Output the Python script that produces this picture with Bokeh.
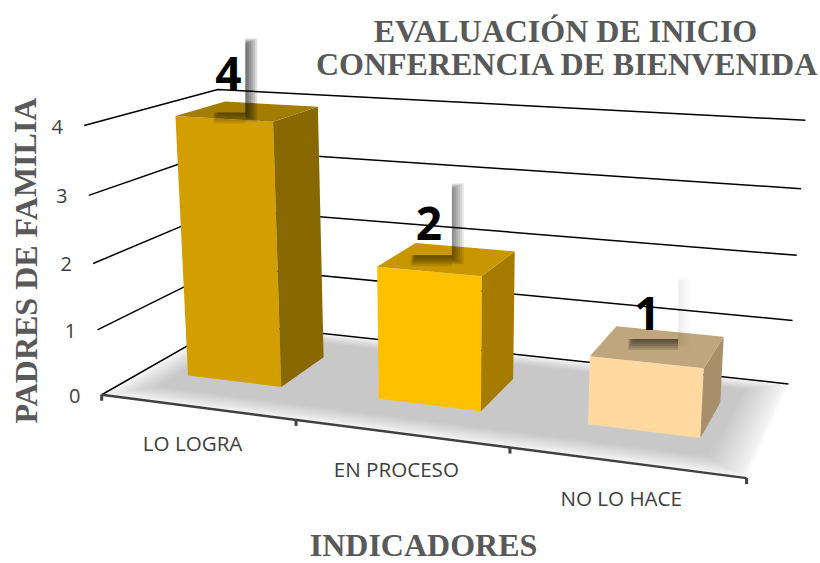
from bokeh.plotting import figure
from bokeh.models import Range1d
from bokeh.core.properties import value
from bokeh.embed import file_html
from bokeh.resources import INLINE
import numpy as np

categories = ["LO LOGRA", "EN PROCESO", "NO LO HACE"]
values = [4, 2, 1]
y_ticks = [0, 1, 2, 3, 4]
front_colors = ["#D29E00", "#FFC000", "#FFD9A0"]
side_colors = ["#886800", "#A67C00", "#A68F6A"]
top_colors = ["#A37D00", "#C89700", "#BFA67D"]
title_lines = ["EVALUACIÓN DE INICIO", "CONFERENCIA DE BIENVENIDA"]
y_title = "PADRES DE FAMILIA"
x_title = "INDICADORES"

# camera: fitted to where the box corners sit on the page (cat, depth, value) -> (px, py)
n_cat, y_max = len(categories), max(y_ticks)
box_world = [(0,0,0),(n_cat,0,0),(0,1,0),(n_cat,1,0),(0,0,y_max),(0,1,y_max),(n_cat,1,y_max)]
box_page = [(101,394),(746,478),(227,323),(788,383),(84,125),(217,89),(805,120)]
A, b = [], []
for (X,Y,Z),(u,v) in zip(box_world, box_page):
    A.append([X,Y,Z,1,0,0,0,0,-u*X,-u*Y,-u*Z]); b.append(u)
    A.append([0,0,0,0,X,Y,Z,1,-v*X,-v*Y,-v*Z]); b.append(v)
h = np.linalg.lstsq(np.array(A,float), np.array(b,float), rcond=None)[0]
M = np.append(h,1.0).reshape(3,4)
def proj(X,Y,Z):
    r = M @ np.array([X,Y,Z,1.0])
    return r[0]/r[2], r[1]/r[2]
def poly(pts):
    q = [proj(*t) for t in pts]
    return [a for a,_ in q],[c for _,c in q]

p = figure(width=820, height=563, output_backend="svg", toolbar_location=None,
           x_range=Range1d(0,820), y_range=Range1d(563,0), min_border=0,
           outline_line_color=None)
p.axis.visible = False
p.grid.visible = False
p.background_fill_color = "white"

# floor with soft fading border
layers = 18
for i in range(layers):
    t = i/(layers-1)
    inset = 0.14*t
    g = int(250 - (250-200)*t**0.8)
    x0, x1 = n_cat*inset*0.45, n_cat*(1-inset*0.45)
    y0, y1 = inset*1.1, 1-inset*0.9
    xs, ys = poly([(x0,y0,0),(x1,y0,0),(x1,y1,0),(x0,y1,0)])
    p.patch(xs, ys, fill_color=f"#{g:02x}{g:02x}{g:02x}", line_color=None)

# gridlines
for t in y_ticks:
    xs, ys = poly([(0,0,t),(0,1,t),(n_cat,1,t)])
    p.line(xs, ys, line_color="#000000", line_width=1.5)

# category axis
xs, ys = poly([(0,0,0),(n_cat,0,0)])
p.line(xs, ys, line_color="#404040", line_width=2.5)
for i in range(n_cat+1):
    a,c = proj(i,0,0)
    p.segment([a],[c],[a],[c+6], line_color="#404040", line_width=3)

# bars
HW, CENTRE, D0, D1 = 0.25, 0.49, 0.31, 0.70
for i,val in enumerate(values):
    u0,u1 = i+CENTRE-HW, i+CENTRE+HW
    xs,ys = poly([(u0,D0,0),(u1,D0,0),(u1,D0,val),(u0,D0,val)])
    p.patch(xs,ys,fill_color=front_colors[i],line_color=None)
    xs,ys = poly([(u1,D0,0),(u1,D1,0),(u1,D1,val),(u1,D0,val)])
    p.patch(xs,ys,fill_color=side_colors[i],line_color=None)
    xs,ys = poly([(u0,D0,val),(u1,D0,val),(u1,D1,val),(u0,D1,val)])
    p.patch(xs,ys,fill_color=top_colors[i],line_color=None)

# data labels with the blurred shadow of their box
# offset of label from bar-top centre; box left, right, top, bottom around label; shadow strengths
offs = [(-21,-38),(-20,-36),(-13,-33)]
boxes = [(-15,17,-35,39),(-18,23,-40,32),(-19,31,-37,25)]
strength = [(0.12,0.09),(0.09,0.11),(0.012,0.12)]
for i,val in enumerate(values):
    cx,cy = proj(i+0.5,0.5,val)
    lx,ly = cx+offs[i][0], cy+offs[i][1]
    bl,br,bt,bb = boxes[i]
    sr,sb = strength[i]
    for k in range(6):
        p.quad(left=[lx+br],right=[lx+br+12-2*k],top=[ly+bt+k],bottom=[ly+bb+9-k],
               fill_color="#000000",fill_alpha=sr,line_color=None)
        p.quad(left=[lx+bl+k],right=[lx+br],top=[ly+bb],bottom=[ly+bb+11-2*k],
               fill_color="#000000",fill_alpha=sb,line_color=None)
    p.text([lx],[ly],text=[str(val)],text_font=value("Open Sans"),text_font_style="bold",
           text_font_size="46px",text_color="#000000",text_align="center",text_baseline="middle")

# value tick labels
for t in y_ticks:
    a,c = proj(0,0,t)
    p.text([a-27],[c+1],text=[str(t)],text_font=value("Open Sans"),text_font_size="20px",
           text_color="#404040",text_align="center",text_baseline="middle")
# category labels
for i,name in enumerate(categories):
    a,c = proj(i+0.5,0,0)
    p.text([a-4],[c+36],text=[name],text_font=value("Open Sans"),text_font_size="20.6px",
           text_color="#404040",text_align="center",text_baseline="middle")

serif = dict(text_font=value("Liberation Serif"),text_font_style="bold",text_color="#595959",
             text_baseline="middle")
p.text([565],[30],text=[title_lines[0]],text_align="center",text_font_size="32px",**serif)
p.text([567],[63],text=[title_lines[1]],text_align="center",text_font_size="32px",**serif)
p.text([423],[544],text=[x_title],text_align="center",text_font_size="32px",**serif)
p.text([25],[260],text=[y_title],text_align="center",angle=[np.pi/2],text_font_size="32px",**serif)

open("out.html","w").write(file_html(p, INLINE))
